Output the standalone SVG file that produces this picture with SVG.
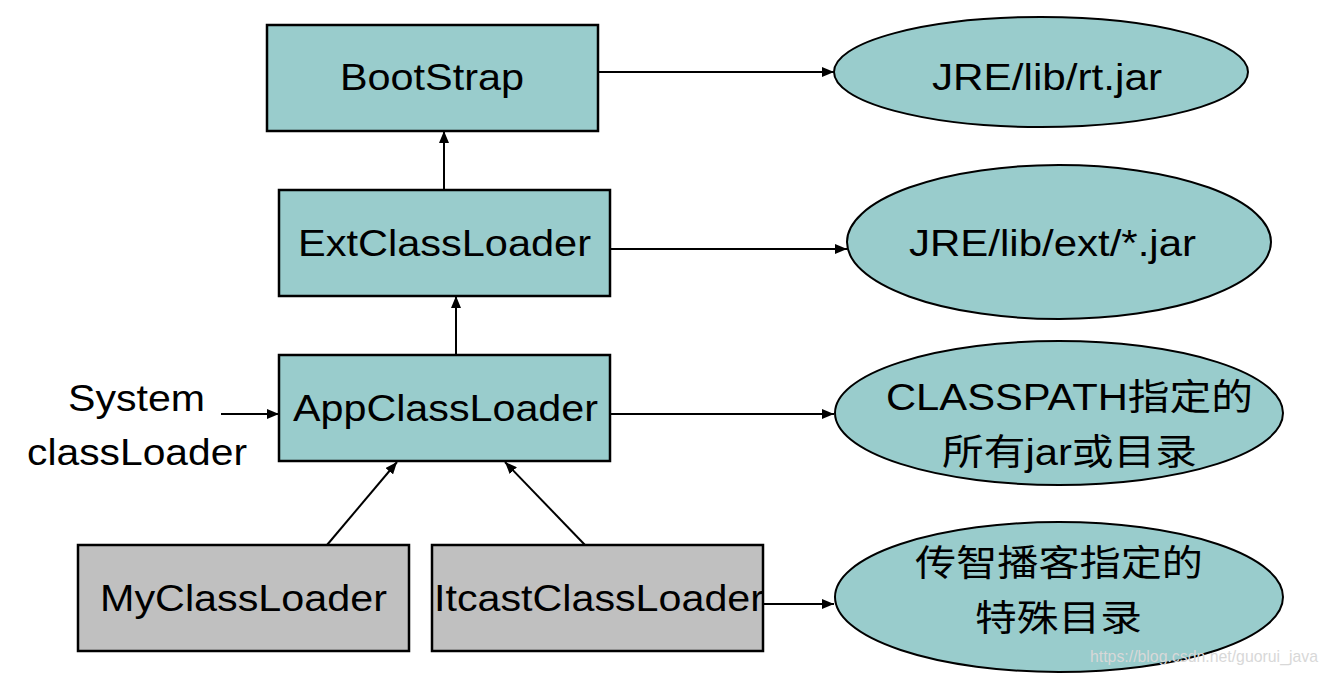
<svg xmlns="http://www.w3.org/2000/svg" width="1330" height="675" viewBox="0 0 1330 675">
<style>
.box{fill:#99cccc;stroke:#000;stroke-width:2.5}
.gbox{fill:#c0c0c0;stroke:#000;stroke-width:2.5}
.ell{fill:#99cccc;stroke:#000;stroke-width:2}
.t{font-family:"Liberation Sans",Arial,"Noto Sans CJK SC",sans-serif;font-size:36px;fill:#000}
.c{font-family:"Liberation Sans",Arial,"Noto Sans CJK SC",sans-serif;font-size:36px;fill:#000}
.edge{stroke:#000;stroke-width:2;fill:none;marker-end:url(#ah)}
.wm{font-family:"Liberation Sans",Arial,sans-serif;font-size:17px;fill:#d8d8d8}
</style>
<defs>
<marker id="ah" viewBox="0 0 12 10" refX="12" refY="5" markerWidth="12" markerHeight="10" markerUnits="userSpaceOnUse" orient="auto">
<path d="M0,0 L12,5 L0,10 z" fill="#000"/>
</marker>
</defs>
<rect width="1330" height="675" fill="#fff"/>
<g id="connectors">
<line class="edge" x1="598" y1="72" x2="834" y2="72"/>
<line class="edge" x1="610" y1="249" x2="847" y2="249"/>
<line class="edge" x1="610" y1="414" x2="834" y2="414"/>
<line class="edge" x1="763" y1="604" x2="834" y2="604"/>
<line class="edge" x1="444" y1="190" x2="444" y2="131"/>
<line class="edge" x1="456" y1="355" x2="456" y2="296"/>
<line class="edge" x1="327" y1="545" x2="397" y2="462"/>
<line class="edge" x1="585" y1="545" x2="505" y2="462"/>
<line class="edge" x1="221" y1="414" x2="279" y2="414"/>
</g>
<g id="bootstrap">
<rect class="box" x="267" y="25" width="331" height="106"/>
<text class="t" x="340" y="90" textLength="184" lengthAdjust="spacingAndGlyphs">BootStrap</text>
</g>
<g id="extclassloader">
<rect class="box" x="279" y="190" width="331" height="106"/>
<text class="t" x="298" y="256" textLength="293" lengthAdjust="spacingAndGlyphs">ExtClassLoader</text>
</g>
<g id="appclassloader">
<rect class="box" x="279" y="355" width="331" height="106"/>
<text class="t" x="293" y="421" textLength="305" lengthAdjust="spacingAndGlyphs">AppClassLoader</text>
</g>
<g id="myclassloader">
<rect class="gbox" x="78" y="545" width="331" height="106"/>
<text class="t" x="100" y="611" textLength="287" lengthAdjust="spacingAndGlyphs">MyClassLoader</text>
</g>
<g id="itcastclassloader">
<rect class="gbox" x="432" y="545" width="331" height="106"/>
<text class="t" x="434" y="611" textLength="330" lengthAdjust="spacingAndGlyphs">ItcastClassLoader</text>
</g>
<g id="systemclassloader">
<text class="t" x="68" y="411" textLength="137" lengthAdjust="spacingAndGlyphs">System</text>
<text class="t" x="27" y="465" textLength="220" lengthAdjust="spacingAndGlyphs">classLoader</text>
</g>
<g id="rtjar">
<ellipse class="ell" cx="1041" cy="72" rx="207" ry="55"/>
<text class="t" x="932" y="90" textLength="230" lengthAdjust="spacingAndGlyphs">JRE/lib/rt.jar</text>
</g>
<g id="extjar">
<ellipse class="ell" cx="1059" cy="242" rx="212" ry="77"/>
<text class="t" x="909" y="256" textLength="287" lengthAdjust="spacingAndGlyphs">JRE/lib/ext/*.jar</text>
</g>
<g id="classpath">
<ellipse class="ell" cx="1059" cy="413" rx="224" ry="72"/>
<text class="c" x="886" y="410" textLength="367" lengthAdjust="spacingAndGlyphs">CLASSPATH指定的</text>
<text class="c" x="942" y="465" textLength="255" lengthAdjust="spacingAndGlyphs">所有jar或目录</text>
</g>
<g id="itcastdir">
<ellipse class="ell" cx="1059" cy="597" rx="224" ry="75"/>
<text class="c" x="915" y="576" textLength="288" lengthAdjust="spacingAndGlyphs">传智播客指定的</text>
<text class="c" x="975" y="631" textLength="167" lengthAdjust="spacingAndGlyphs">特殊目录</text>
</g>
<text class="wm" x="1090" y="662" textLength="228" lengthAdjust="spacingAndGlyphs">https://blog.csdn.net/guorui_java</text>
</svg>
